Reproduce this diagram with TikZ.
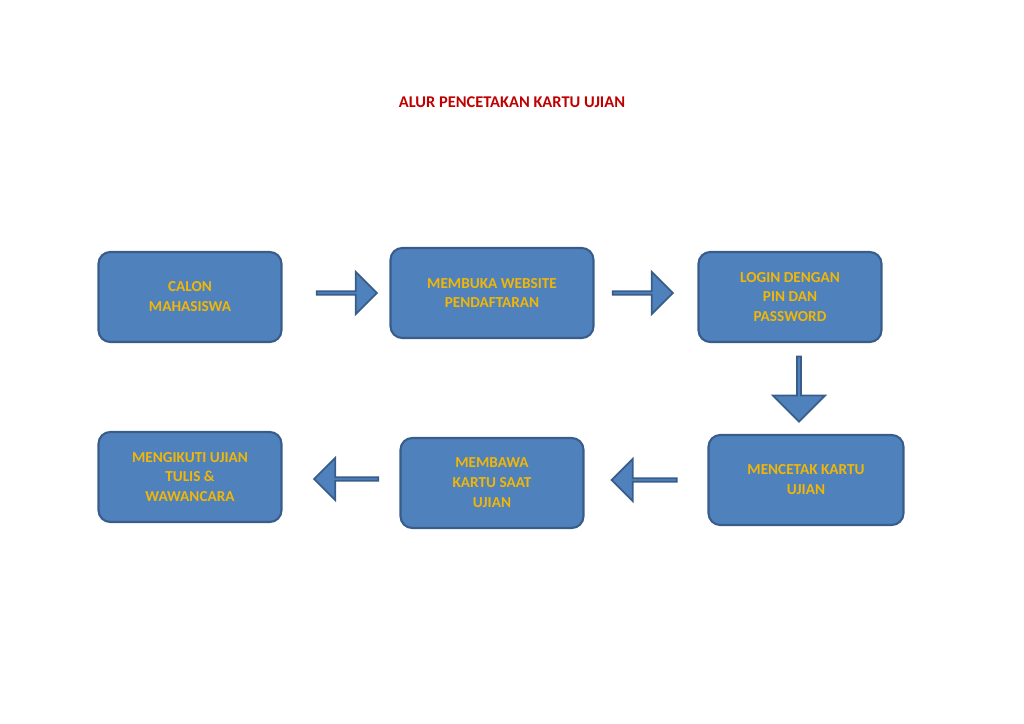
\documentclass[tikz,border=0pt]{standalone}
\usepackage{fontspec}
\setmainfont{Carlito}
\usetikzlibrary{shapes.arrows}
\definecolor{boxfill}{HTML}{4F81BD}
\definecolor{boxline}{HTML}{385D8A}
\definecolor{txt}{HTML}{F2B705}
\definecolor{ttl}{HTML}{C00000}
\begin{document}
\begin{tikzpicture}[x=0.03cm,y=-0.03cm,
 stepbox/.style={draw=boxline,fill=boxfill,line width=1.8pt,rounded corners=10pt,align=center,text=txt,font=\bfseries\fontsize{13}{17}\selectfont,minimum height=2.7cm},
 blk/.style={single arrow,draw=boxline,fill=boxfill,line width=1.5pt,minimum width=1.26cm,single arrow head extend=0.3cm,minimum height=#1,inner sep=0pt}]
\useasboundingbox (0,0) rectangle (1024,724);
\node[font=\bfseries\fontsize{14}{17}\selectfont,text=ttl] (t) at (512,102) {ALUR PENCETAKAN KARTU UJIAN};
\node[stepbox,minimum width=5.49cm] (a) at (190,297) {CALON\\MAHASISWA};
\node[stepbox,minimum width=6.09cm] (b) at (492,293) {MEMBUKA WEBSITE\\PENDAFTARAN};
\node[stepbox,minimum width=5.49cm] (c) at (790,297) {LOGIN DENGAN\\PIN DAN\\PASSWORD};
\node[stepbox,minimum width=5.85cm] (d) at (806,480) {MENCETAK KARTU\\UJIAN};
\node[stepbox,minimum width=5.49cm] (e) at (492,483) {MEMBAWA\\KARTU SAAT\\UJIAN};
\node[stepbox,minimum width=5.49cm] (f) at (190,477) {MENGIKUTI UJIAN\\TULIS \&\\WAWANCARA};
\node[blk=1.8cm] (r1) at (346,293) {};
\node[blk=1.8cm] (r2) at (642,293) {};
\node[blk=1.95cm,rotate=-90,minimum width=1.56cm] (dn) at (799,388) {};
\node[blk=1.95cm,rotate=180] (l1) at (645,480) {};
\node[blk=1.92cm,rotate=180] (l2) at (347,479) {};
\end{tikzpicture}
\end{document}
